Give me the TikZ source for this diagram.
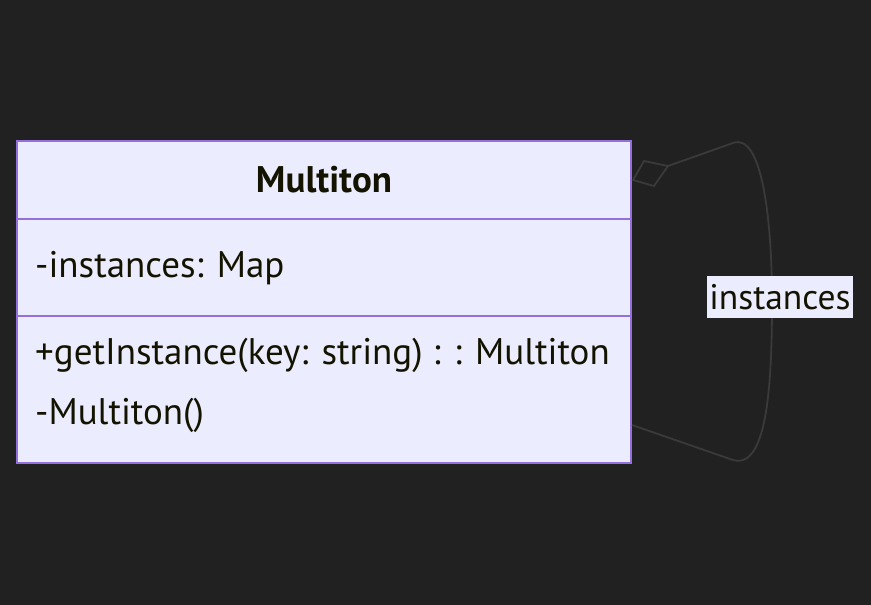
\documentclass[tikz,border=0pt]{standalone}
\usepackage{fontspec}
\setmainfont{PT Sans}
\usepackage{tikz}

\definecolor{bg}{HTML}{212121}
\definecolor{boxfill}{HTML}{ECECFF}
\definecolor{boxline}{HTML}{9370DB}
\definecolor{ink}{HTML}{131300}
\definecolor{edge}{HTML}{3A3A3A}

\tikzset{
  member/.style={anchor=west, inner sep=0pt, text=ink, font=\fontsize{37}{42}\selectfont},
  loopline/.style={draw=edge, line width=1.8pt},
}

\begin{document}
\begin{tikzpicture}[x=1pt,y=-1pt]

\fill[bg] (0,0) rectangle (871,605);
\useasboundingbox (0,0) rectangle (871,605);

\filldraw[fill=boxfill, draw=boxline, line width=1.8pt] (17,141) rectangle (631,463);
\draw[boxline, line width=1.8pt] (17,219) -- (631,219);
\draw[boxline, line width=1.8pt] (17,316) -- (631,316);

\node[inner sep=0pt, text=ink, font=\fontsize{37}{42}\selectfont\bfseries] (title) at (324,180) {Multiton};
\node[member] (attr) at (35,268) {-instances: Map};
\node[member] (get) at (35,355) {+getInstance(key: string) : : Multiton};
\node[member] (ctor) at (35,415) {-Multiton()};

\coordinate (tail) at (632,425);
\coordinate (tip) at (633,180);

% aggregation diamond
\draw[loopline, line join=miter] (tip) -- (644,161) -- (668,166) -- (654,186) -- cycle;
\coordinate (dback) at (668,166);

\draw[loopline] (dback) -- (733,143)
  .. controls (762,132) and (772,220) .. (772,300)
  .. controls (772,380) and (768,470) .. (733,460) -- (tail);

\node[fill=boxfill, text=ink, inner sep=1pt, font=\fontsize{35.5}{40}\selectfont,
  minimum width=146, minimum height=42] (lbl) at (780,297) {instances};

\end{tikzpicture}
\end{document}
